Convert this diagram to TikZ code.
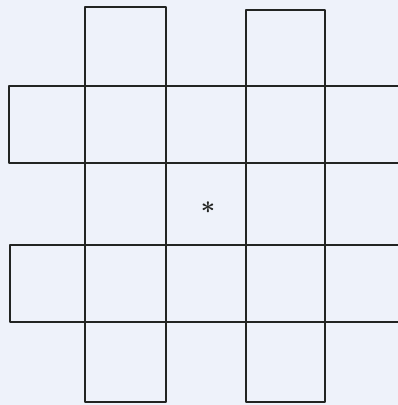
\documentclass[tikz,border=0pt]{standalone}
\usepackage{amsmath,amssymb}
\definecolor{papel}{RGB}{238,242,250}
\definecolor{tinta}{RGB}{34,36,34}

\begin{document}
\begin{tikzpicture}[x=1pt,y=-1pt,line width=1.6pt,line join=round]
  \fill[papel] (0,0) rectangle (398,405);
  \useasboundingbox (0,0) rectangle (398,405);
  \clip (0,0) rectangle (398,405);
  \draw[tinta] (85,7) rectangle (166,402);
  \draw[tinta] (246,10) rectangle (325,402);
  \draw[tinta] (405,86) -- (9,86) -- (9,163) -- (405,163);
  \draw[tinta] (405,245) -- (10,245) -- (10,322) -- (405,322);
  \node[tinta,font=\Huge,inner sep=0pt] (estrella) at (208,208) {$\boldsymbol{\ast}$};
\end{tikzpicture}
\end{document}
